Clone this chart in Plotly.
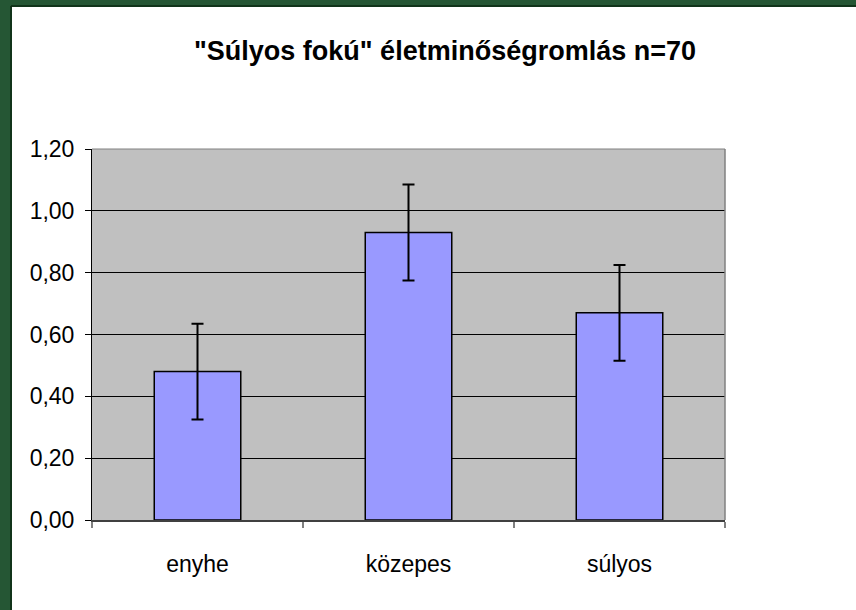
import plotly.graph_objects as go

categories = ["enyhe", "közepes", "súlyos"]
means = [0.48, 0.93, 0.67]
errors = [0.155, 0.155, 0.155]
y_ticks = [0.0, 0.2, 0.4, 0.6, 0.8, 1.0, 1.2]
title_text = '"Súlyos fokú" életminőségromlás n=70'

W, H = 856, 610
ml, mr, mt, mb = 92, 131, 149, 90
pw, ph = W - ml - mr, H - mt - mb

def px_x(p):
    return (p - ml) / pw

def px_y(p):
    return (H - mb - p) / ph

label_font = dict(family="Liberation Sans, Arial", size=23, color="black")

fig = go.Figure()
fig.add_trace(go.Bar(
    x=categories, y=means,
    marker=dict(color="#9999FF", line=dict(color="black", width=1.5)),
    error_y=dict(type="data", array=errors, visible=True, color="black", thickness=2, width=6),
    width=0.41,
))

green = "#255634"
shapes = [
    dict(type="rect", xref="paper", yref="paper", x0=px_x(0), x1=px_x(12), y0=px_y(H), y1=px_y(0),
         fillcolor=green, line=dict(width=0), layer="below"),
    dict(type="rect", xref="paper", yref="paper", x0=px_x(0), x1=px_x(W), y0=px_y(7), y1=px_y(0),
         fillcolor=green, line=dict(width=0), layer="below"),
    dict(type="line", xref="paper", yref="paper", x0=px_x(11), x1=px_x(11), y0=px_y(H), y1=px_y(6),
         line=dict(color="#0b2a12", width=1.5)),
    dict(type="line", xref="paper", yref="paper", x0=px_x(11), x1=px_x(W), y0=px_y(6), y1=px_y(6),
         line=dict(color="#0b2a12", width=1.5)),
    dict(type="line", xref="paper", yref="paper", x0=0, x1=1, y0=1, y1=1,
         line=dict(color="#808080", width=1)),
    dict(type="line", xref="paper", yref="paper", x0=1, x1=1, y0=0, y1=1,
         line=dict(color="#808080", width=1.5)),
]

fig.update_layout(
    width=W, height=H,
    margin=dict(l=ml, r=mr, t=mt, b=mb),
    paper_bgcolor="white",
    plot_bgcolor="#C0C0C0",
    separators=", ",
    showlegend=False,
    bargap=0.59,
    hovermode=False,
    title=dict(text="<b>" + title_text + "</b>", x=445 / W, xanchor="center",
               y=1 - 51 / H, yanchor="middle", xref="container", yref="container",
               font=dict(family="Liberation Sans, Arial", size=27, color="black")),
    shapes=shapes,
    xaxis=dict(
        showline=True, linecolor="#404040", linewidth=1.5,
        ticks="outside", ticklen=6, tickcolor="#808080", tickwidth=1.5,
        tickson="boundaries", showgrid=False,
        tickfont=label_font, ticklabelstandoff=23,
    ),
    yaxis=dict(
        range=[0, 1.2], tickvals=y_ticks, tickformat=".2f",
        showline=True, linecolor="black", linewidth=1,
        ticks="outside", ticklen=6, tickcolor="black",
        showgrid=True, gridcolor="black", gridwidth=1,
        zeroline=False,
        tickfont=label_font, ticklabelstandoff=6,
    ),
)

fig.write_html("out.html",
               config={"displayModeBar": False},
               post_script="document.body.style.margin='0';document.body.style.padding='0';")
